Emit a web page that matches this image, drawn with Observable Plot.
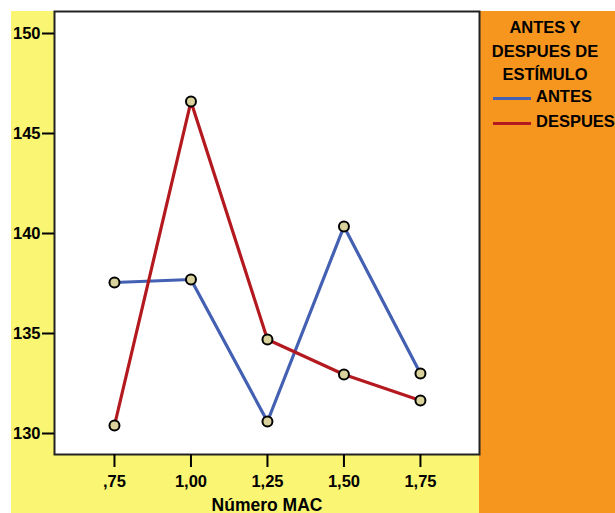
<!DOCTYPE html>
<html>
<head>
<meta charset="utf-8">
<script src="https://cdn.jsdelivr.net/npm/d3@7"></script>
<script src="https://cdn.jsdelivr.net/npm/@observablehq/plot@0.6"></script>
<style>
  html, body { margin: 0; padding: 0; background: #fff; }
  #chart { position: relative; width: 615px; height: 513px; overflow: hidden; background: #fff;
           font-family: "Liberation Sans", Arial, sans-serif; font-weight: bold; }
  #yellow { position: absolute; left: 11px; top: 11px; width: 468px; height: 502px; background: #FAF572; }
  #orange { position: absolute; left: 479px; top: 11px; width: 136px; height: 502px; background: #F7961F; }
  #chart svg { position: absolute; left: 0; top: 0; }
  #chart svg text { font-size: 16.5px; font-weight: bold; }
  #chart svg g[aria-label="x-axis label"] text { font-size: 17.5px; }
  #legend { position: absolute; left: 479px; top: 16px; width: 140px; font-size: 16.5px; color: #000; }
  #legend .title { text-align: center; line-height: 23.5px; padding-right: 8px; }
  #legend .item { position: relative; height: 25px; white-space: nowrap; }
  #legend .item .sw { position: absolute; left: 14px; top: 10px; width: 38px; height: 3px; }
  #legend .item span { position: absolute; left: 57px; top: 0px; }
</style>
</head>
<body>
<div id="chart">
  <div id="yellow"></div>
  <div id="orange"></div>
  <div id="legend"></div>
</div>
<script>
// Mean values by MAC number, before and after the stimulus
const mac = [0.75, 1.00, 1.25, 1.50, 1.75];
const antes = [137.55, 137.7, 130.6, 140.35, 133.0];
const despues = [130.4, 146.6, 134.7, 132.95, 131.65];
const xTicks = [0.75, 1.00, 1.25, 1.50, 1.75];
const xTickLabels = [",75", "1,00", "1,25", "1,50", "1,75"];
const yTicks = [130, 135, 140, 145, 150];
const seriesNames = ["ANTES", "DESPUES"];
const seriesColors = ["#4360B2", "#B3191F"];

const rows = [
  ...mac.map((m, i) => ({mac: m, valor: antes[i], serie: seriesNames[0]})),
  ...mac.map((m, i) => ({mac: m, valor: despues[i], serie: seriesNames[1]}))
];

const plot = Plot.plot({
  width: 615,
  height: 513,
  marginLeft: 54,
  marginRight: 136,
  marginTop: 11,
  marginBottom: 59,
  style: {background: "transparent", fontFamily: "'Liberation Sans', Arial, sans-serif", fontWeight: "bold", color: "#000"},
  x: {domain: [0.554, 1.943]},
  y: {domain: [128.95, 151.1]},
  color: {domain: seriesNames, range: seriesColors},
  marks: [
    Plot.frame({fill: "#fff", stroke: "#222", strokeWidth: 2}),
    Plot.axisX({ticks: xTicks, tickFormat: d => xTickLabels[xTicks.indexOf(d)], tickSize: 13, tickPadding: 8,
                strokeWidth: 2, label: "Número MAC", labelAnchor: "center", labelArrow: "none", labelOffset: 56}),
    Plot.axisY({ticks: yTicks, tickFormat: d => String(d), tickSize: 12, tickPadding: 2, strokeWidth: 2, label: null}),
    Plot.line(rows, {x: "mac", y: "valor", z: "serie", stroke: "serie", strokeWidth: 3.2}),
    Plot.dot(rows, {x: "mac", y: "valor", r: 5, fill: "#D9D29C", stroke: "#000", strokeWidth: 2})
  ]
});
document.getElementById("chart").appendChild(plot);

// Legend
const legend = document.getElementById("legend");
legend.innerHTML = `<div class="title">ANTES Y<br>DESPUES DE<br>ESTÍMULO</div>` +
  seriesNames.map((n, i) => `<div class="item"><div class="sw" style="background:${seriesColors[i]}"></div><span>${n}</span></div>`).join("");
</script>
</body>
</html>
